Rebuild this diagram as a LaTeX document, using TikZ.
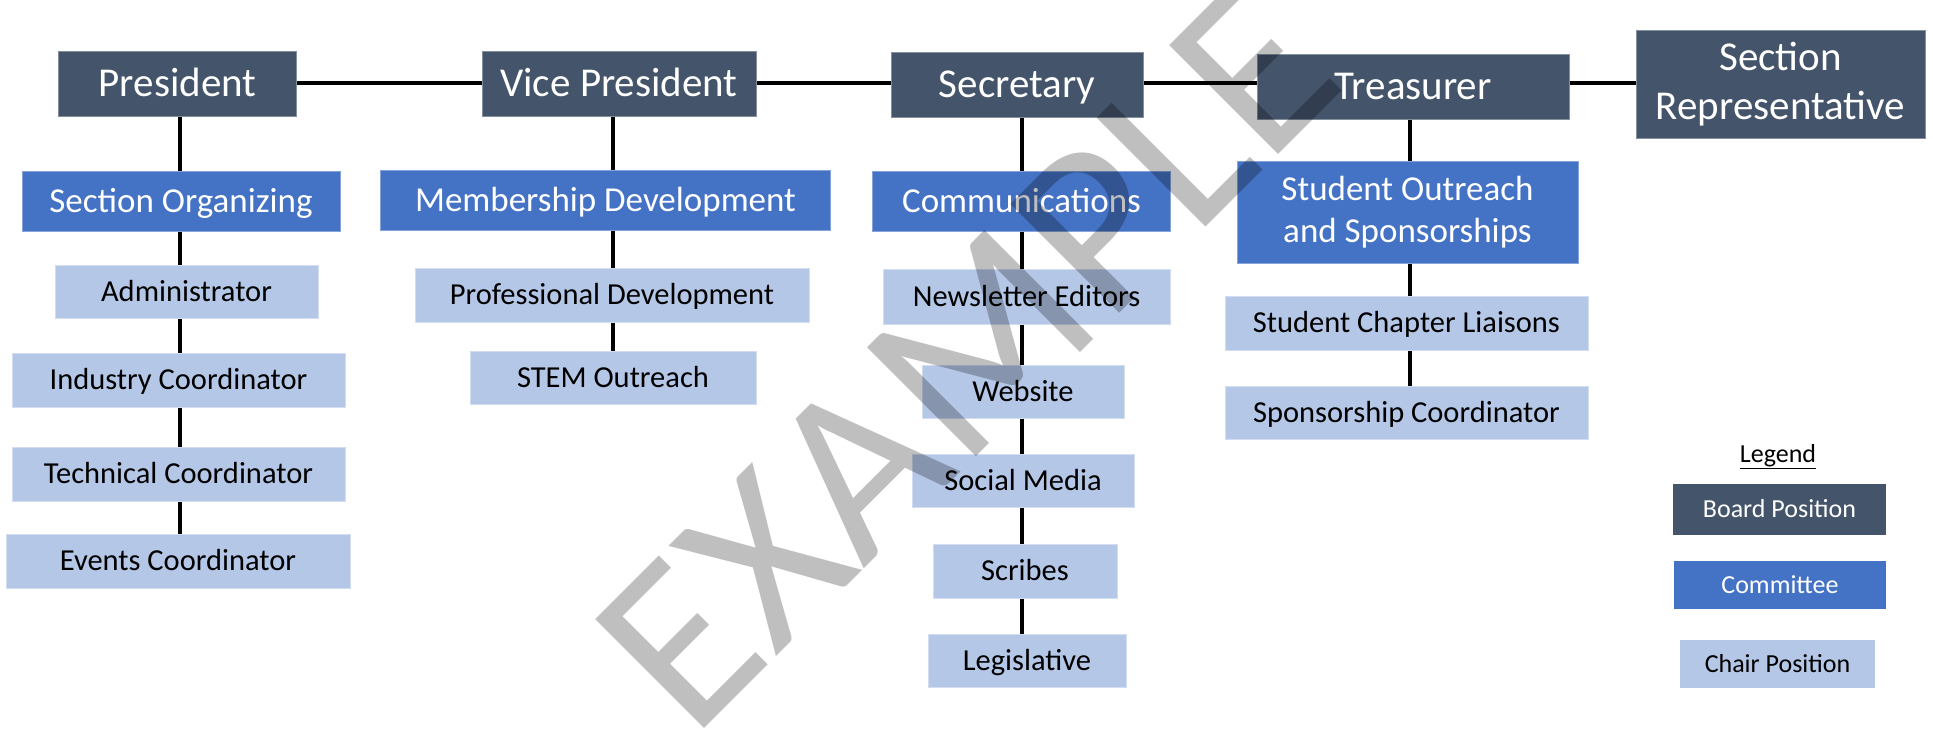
\documentclass[tikz,border=0pt]{standalone}
\usepackage{fontspec}
\setmainfont{Carlito}
\usetikzlibrary{backgrounds}
\definecolor{boardc}{RGB}{68,84,106}
\definecolor{comc}{RGB}{68,114,196}
\definecolor{chairc}{RGB}{180,199,231}
\begin{document}
\begin{tikzpicture}[x=1pt,y=-1pt,
  wh/.style 2 args={minimum width=#1,minimum height=#2},
  board/.style={fill=boardc,draw=boardc!65!white,line width=0.8pt,text=white,inner sep=0,font=\fontsize{41}{49}\selectfont},
  boardone/.style={board,text height=26.4pt,text depth=0pt},
  comm/.style={fill=comc,draw=comc!65!white,line width=0.8pt,text=white,inner sep=0,font=\fontsize{35}{42}\selectfont},
  commone/.style={comm,text height=22.5pt,text depth=0pt},
  chair/.style={fill=chairc,draw=chairc!60!white,line width=0.8pt,text=black,inner sep=0,font=\fontsize{30.5}{36}\selectfont,text height=19.6pt,text depth=0pt},
  legbox/.style={inner sep=0,font=\fontsize{26}{31}\selectfont,text height=16.7pt,text depth=0pt},
  conn/.style={line width=4pt,black}]
\useasboundingbox (0,0) rectangle (1933,746);
% board
\node[boardone,wh={238}{65}] (pres) at (177.5,83.5) {President};
\node[boardone,wh={274}{65}] (vp) at (619,83.5) {Vice President};
\node[boardone,wh={252}{65}] (sec) at (1017,84.5) {Secretary};
\node[boardone,wh={312}{65}] (tre) at (1413,86.5) {Treasurer};
\node[board,wh={289}{108},align=center] (sr) at (1780.5,84) {Section\\Representative};
% committees
\node[commone,wh={318}{60}] (so) at (181,201) {Section Organizing};
\node[commone,wh={450}{60}] (md) at (605.5,200.5) {Membership Development};
\node[commone,wh={298}{60}] (com) at (1021.5,201) {Communications};
\node[comm,wh={341}{102},align=center] (sos) at (1407.5,212) {Student Outreach\\and Sponsorships};
% chairs
\node[chair,wh={263}{53}] (admin) at (186.5,291.5) {Administrator};
\node[chair,wh={333}{54}] (ind) at (178.5,380) {Industry Coordinator};
\node[chair,wh={333}{54}] (tech) at (178.5,474) {Technical Coordinator};
\node[chair,wh={344}{54}] (ev) at (178,561) {Events Coordinator};
\node[chair,wh={394}{54}] (pd) at (612,295) {Professional Development};
\node[chair,wh={286}{53}] (stem) at (613,377.5) {STEM Outreach};
\node[chair,wh={287}{55}] (news) at (1026.5,296.5) {Newsletter Editors};
\node[chair,wh={202}{53}] (web) at (1023,391.5) {Website};
\node[chair,wh={222}{53}] (soc) at (1023,480.5) {Social Media};
\node[chair,wh={184}{54}] (scr) at (1025,571) {Scribes};
\node[chair,wh={198}{53}] (legis) at (1027,660.5) {Legislative};
\node[chair,wh={363}{54}] (scl) at (1406.5,323) {Student Chapter Liaisons};
\node[chair,wh={363}{53}] (spc) at (1406.5,412.5) {Sponsorship Coordinator};
% legend
\node[legbox] (legtitle) at (1778,454) {\underline{Legend}};
\node[legbox,fill=boardc,text=white,wh={213}{51}] (lb) at (1779.5,509.5) {Board Position};
\node[legbox,fill=comc,text=white,wh={212}{48}] (lc) at (1780,585) {Committee};
\node[legbox,fill=chairc,wh={195}{48}] (lch) at (1777.5,664) {Chair Position};
% connectors
\coordinate (hl) at (0,83);
\coordinate (cp) at (179.5,0);
\coordinate (cv) at (613,0);
\coordinate (cs) at (1022,0);
\coordinate (ct) at (1409.5,0);
\begin{scope}[on background layer]
\fill[white] (0,0) rectangle (1933,746);
\draw[conn] (pres.east |- hl) -- (vp.west |- hl);
\draw[conn] (vp.east |- hl) -- (sec.west |- hl);
\draw[conn] (sec.east |- hl) -- (tre.west |- hl);
\draw[conn] (tre.east |- hl) -- (sr.west |- hl);
\foreach \a/\b in {pres/so,so/admin,admin/ind,ind/tech,tech/ev}
  \draw[conn] (\a.south -| cp) -- (\b.north -| cp);
\foreach \a/\b in {vp/md,md/pd,pd/stem}
  \draw[conn] (\a.south -| cv) -- (\b.north -| cv);
\foreach \a/\b in {sec/com,com/news,news/web,web/soc,soc/scr,scr/legis}
  \draw[conn] (\a.south -| cs) -- (\b.north -| cs);
\foreach \a/\b in {tre/sos,sos/scl,scl/spc}
  \draw[conn] (\a.south -| ct) -- (\b.north -| ct);
\end{scope}
% watermark
\node[rotate=45,anchor=base,inner sep=0,text=black,text opacity=0.25,font=\fontsize{240}{240}\selectfont] (wm) at (1021,412) {EXAMPLE};
\end{tikzpicture}
\end{document}
